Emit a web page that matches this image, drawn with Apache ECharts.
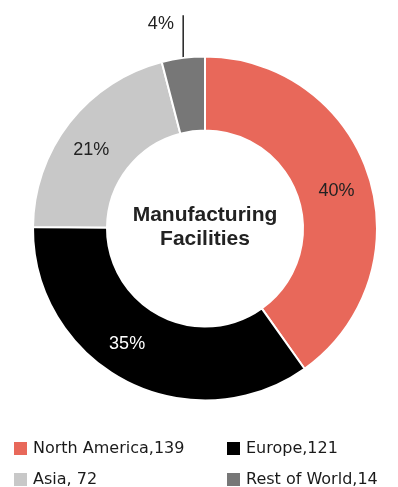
<!DOCTYPE html>
<html>
<head>
<meta charset="utf-8">
<script src="https://cdn.jsdelivr.net/npm/echarts@6/dist/echarts.min.js"></script>
<style>
  html, body { margin: 0; padding: 0; background: #fff; }
  #chart { width: 398px; height: 487px; }
</style>
</head>
<body>
<div id="chart"></div>
<script>
// Manufacturing facilities by region
const regions = ['North America', 'Europe', 'Asia', 'Rest of World'];
const facilities = [139, 121, 72, 14];
const legendSeparators = [',', ',', ', ', ','];
const regionColors = ['#E8685A', '#000000', '#C8C8C8', '#777777'];

const total = facilities.reduce((a, b) => a + b, 0);

// per-slice label tweaks (inside labels nudged, smallest slice labelled outside)
const labelStyles = [
  { color: '#222', offset: [0, 4] },
  { color: '#fff', offset: [-14, -7] },
  { color: '#222', offset: [-5, 6] },
  { color: '#222', position: 'outside' }
];

const pieData = regions.map((name, i) => {
  const item = {
    name: name,
    value: facilities[i],
    itemStyle: { color: regionColors[i] },
    label: Object.assign({}, labelStyles[i])
  };
  if (labelStyles[i].position === 'outside') {
    item.labelLine = { show: true, length: 34, length2: 0, lineStyle: { color: '#222', width: 1.5 } };
  }
  return item;
});

const legendText = {};
regions.forEach((n, i) => { legendText[n] = n + legendSeparators[i] + facilities[i]; });

const legendCommon = {
  orient: 'vertical',
  top: 440,
  height: 60,
  padding: 0,
  itemWidth: 15,
  itemHeight: 15,
  itemGap: 14,
  icon: 'rect',
  selectedMode: false,
  formatter: (name) => legendText[name],
  textStyle: { fontFamily: 'DejaVu Sans', fontSize: 16, color: '#1a1a1a' }
};

const chart = echarts.init(document.getElementById('chart'));
chart.setOption({
  animation: false,
  legend: [
    Object.assign({}, legendCommon, { left: 12, itemTextGap: 12, data: [regions[0], regions[2]] }),
    Object.assign({}, legendCommon, { left: 225, itemTextGap: 10, data: [regions[1], regions[3]] })
  ],
  graphic: [{
    type: 'text',
    x: 205,
    y: 227,
    style: {
      text: 'Manufacturing\nFacilities',
      align: 'center',
      verticalAlign: 'middle',
      fontFamily: 'Liberation Sans',
      fontWeight: 'bold',
      fontSize: 21,
      lineHeight: 24,
      fill: '#222'
    }
  }],
  series: [{
    type: 'pie',
    center: [205, 228.5],
    radius: [98, 172],
    startAngle: 90,
    clockwise: true,
    avoidLabelOverlap: false,
    itemStyle: { borderColor: '#fff', borderWidth: 2 },
    label: {
      show: true,
      position: 'inside',
      fontFamily: 'Liberation Sans',
      fontSize: 18,
      formatter: (p) => Math.round(p.value / total * 100) + '%'
    },
    labelLine: { show: false },
    labelLayout: function (params) {
      const pts = params.labelLinePoints;
      if (!pts) return {};
      // straighten the leader line into a vertical tick above the slice
      const x0 = pts[0][0];
      const top = [x0, pts[1][1] - 9];
      return { labelLinePoints: [pts[0], top, top.slice()] };
    },
    emphasis: { disabled: true },
    data: pieData
  }]
});
</script>
</body>
</html>
